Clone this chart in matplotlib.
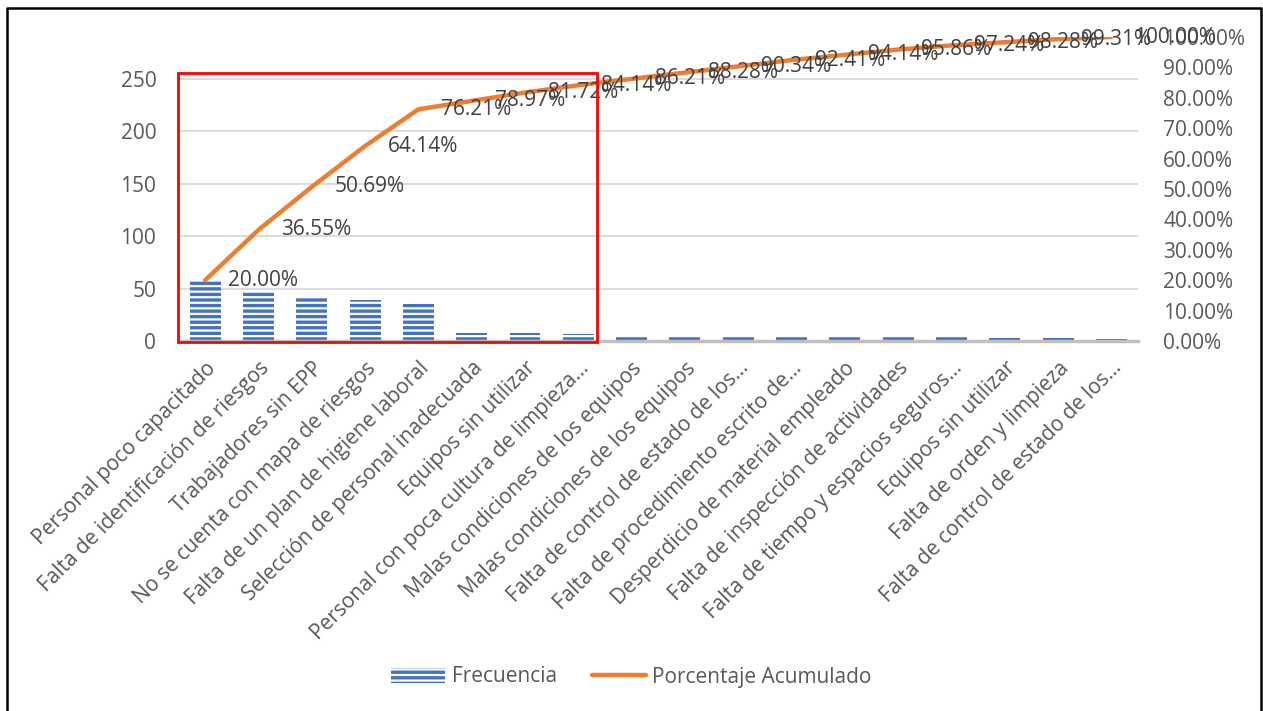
import numpy as np
import matplotlib
matplotlib.use("Agg")
import matplotlib.pyplot as plt
from matplotlib.patches import Patch, Rectangle
from matplotlib.lines import Line2D
from matplotlib.ticker import FuncFormatter

plt.rcParams['font.family'] = ['Open Sans', 'DejaVu Sans']
plt.rcParams['hatch.linewidth'] = 1.6

categorias = [
    'Personal poco capacitado',
    'Falta de identificación de riesgos',
    'Trabajadores sin EPP',
    'No se cuenta con mapa de riesgos',
    'Falta de un plan de higiene laboral',
    'Selección de personal inadecuada',
    'Equipos sin utilizar',
    'Personal con poca cultura de limpieza...',
    'Malas condiciones de los equipos',
    'Malas condiciones de los equipos',
    'Falta de control de estado de los...',
    'Falta de procedimiento escrito de...',
    'Desperdicio de material empleado',
    'Falta de inspección de actividades',
    'Falta de tiempo y espacios seguros...',
    'Equipos sin utilizar',
    'Falta de orden y limpieza',
    'Falta de control de estado de los...',
]
frecuencia = [58, 48, 41, 39, 35, 8, 8, 7, 6, 6, 6, 6, 5, 5, 4, 3, 3, 2]
acumulado = [20.00, 36.55, 50.69, 64.14, 76.21, 78.97, 81.72, 84.14, 86.21,
             88.28, 90.34, 92.41, 94.14, 95.86, 97.24, 98.28, 99.31, 100.00]

azul = '#4472C4'
naranja = '#ED7D31'
gris_txt = '#595959'

W, H = 1263, 711
fig = plt.figure(figsize=(W / 100, H / 100), dpi=100)
ax = fig.add_axes([178.5 / W, 1 - 341 / H, (1138 - 178.5) / W, (341 - 37) / H])
ax2 = ax.twinx()

x = np.arange(len(categorias))
ax.bar(x, frecuencia, 0.58, color=azul, edgecolor='white', linewidth=0,
       hatch='---', zorder=2)
ax.set_xlim(-0.5, len(categorias) - 0.5)
ax.set_ylim(0, sum(frecuencia))
ax.set_yticks(np.arange(0, 251, 50))
ax.grid(axis='y', color='#D9D9D9', linewidth=1.3, zorder=0)
ax.set_axisbelow(True)
ax.set_xticks(x)
ax.set_xticklabels(categorias, rotation=45, ha='right', rotation_mode='anchor',
                   fontsize=15, color=gris_txt)
ax.tick_params(axis='x', length=0, pad=12)
ax.tick_params(axis='y', length=0, pad=16, labelsize=15, labelcolor=gris_txt)

for a in (ax, ax2):
    for s in ('top', 'left', 'right'):
        a.spines[s].set_visible(False)
ax.spines['bottom'].set_color('#BFBFBF')
ax.spines['bottom'].set_linewidth(2.5)
ax2.spines['bottom'].set_visible(False)

pct = np.array(acumulado) / 100
ax2.plot(x, pct, color=naranja, linewidth=3.2, solid_capstyle='round',
         solid_joinstyle='round', zorder=3)
ax2.set_ylim(0, 1)
ax2.set_yticks(np.arange(0, 1.01, 0.1))
ax2.yaxis.set_major_formatter(FuncFormatter(lambda v, p: '{:.2f}%'.format(v * 100)))
ax2.tick_params(axis='y', length=0, pad=18, labelsize=15, labelcolor=gris_txt)

for xi, v in zip(x, acumulado):
    ax2.annotate('{:.2f}%'.format(v), (xi, v / 100), xytext=(23, 0),
                 textcoords='offset pixels', ha='left', va='center',
                 fontsize=15, color='#404040', zorder=4)

handles = [Patch(facecolor=azul, edgecolor='white', linewidth=0, hatch='---'),
           Line2D([0], [0], color=naranja, linewidth=3.2, solid_capstyle='round')]
fig.legend(handles, ['Frecuencia', 'Porcentaje Acumulado'], loc='center',
           bbox_to_anchor=(0.5, 1 - 677 / H), ncol=2, frameon=False,
           fontsize=15, labelcolor=gris_txt, handlelength=2.6,
           handletextpad=0.3, columnspacing=1.7)

# red highlight box
fig.add_artist(Rectangle((178 / W, 1 - 342 / H), (597 - 178) / W, (342 - 73) / H,
                         transform=fig.transFigure, fill=False,
                         edgecolor='#FF0000', linewidth=2))
# outer frame
fig.add_artist(Line2D([6.5 / W, 6.5 / W, 1260.5 / W, 1260.5 / W],
                      [-0.01, 1 - 7.5 / H, 1 - 7.5 / H, -0.01],
                      transform=fig.transFigure, color='black', linewidth=1.8))

fig.savefig('out.png', dpi=100)
